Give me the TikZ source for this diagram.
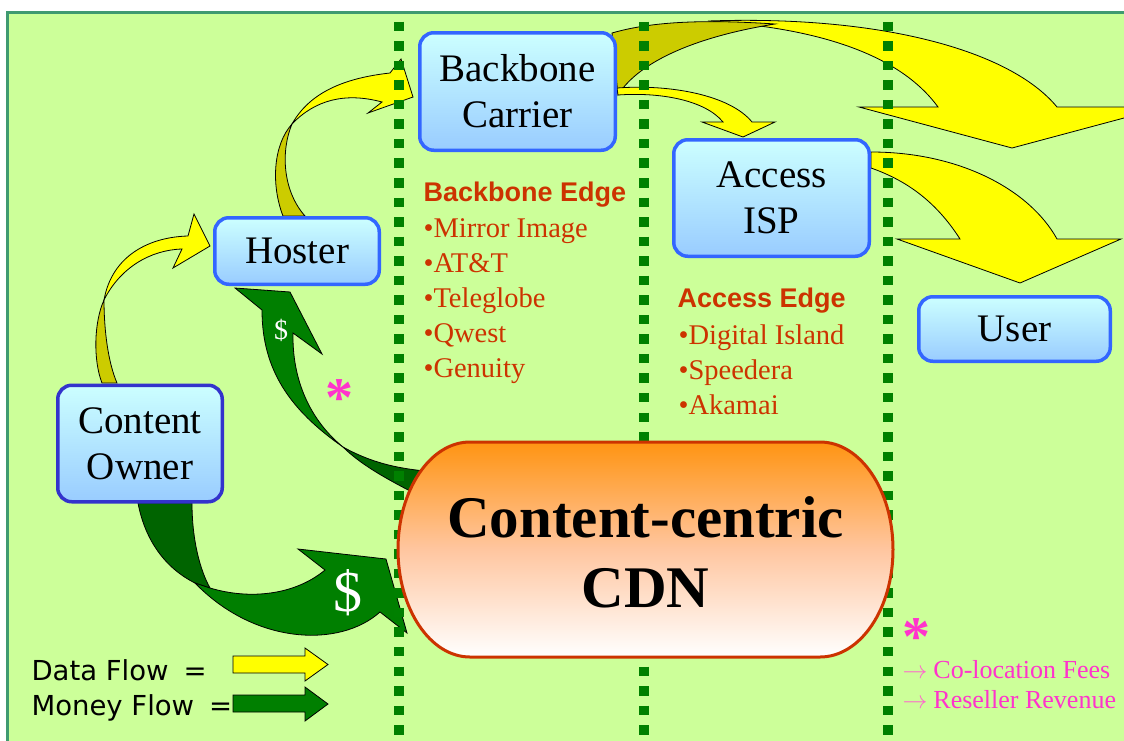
\documentclass[tikz,border=0pt]{standalone}
\usepackage{fontspec}
\setmainfont{Liberation Serif}
\newfontfamily\headsans{Liberation Sans}
\newfontfamily\keyfont{DejaVu Sans}

\definecolor{paper}{HTML}{CCFF99}
\definecolor{frameline}{HTML}{3F9A70}
\definecolor{lanegreen}{HTML}{008000}
\definecolor{boxedge}{HTML}{3366FF}
\definecolor{boxedgedark}{HTML}{3333CC}
\definecolor{boxtop}{HTML}{CCFFFF}
\definecolor{boxbottom}{HTML}{99CCFF}
\definecolor{dataflow}{HTML}{FFFF00}
\definecolor{databack}{HTML}{CCCC00}
\definecolor{moneyflow}{HTML}{007F00}
\definecolor{moneyback}{HTML}{006400}
\definecolor{edgered}{HTML}{CC3300}
\definecolor{notepink}{HTML}{FF33CC}
\definecolor{notearrow}{HTML}{FF66CC}
\definecolor{cdntop}{HTML}{FF9412}
\definecolor{cdnmid}{HTML}{FFC6A0}

\tikzset{
  entity/.style={rounded corners=14pt, draw=boxedge, line width=3.5pt,
    top color=boxtop, bottom color=boxbottom, align=center, inner sep=0pt,
    font=\fontsize{39}{46}\selectfont},
  flowdata/.style={fill=dataflow, draw=black, line width=0.8pt},
  flowdataback/.style={fill=databack, draw=black, line width=0.8pt},
  flowmoney/.style={fill=moneyflow, draw=black, line width=0.8pt},
  flowmoneyback/.style={fill=moneyback, draw=black, line width=0.8pt},
  lane/.style={draw=lanegreen, line width=10pt, dash pattern=on 9.5pt off 10.04pt},
  edgehead/.style={anchor=base west, text=edgered, font=\headsans\bfseries\fontsize{27}{27}\selectfont},
  edgeitem/.style={anchor=base west, text=edgered, font=\fontsize{28.5}{28.5}\selectfont},
  keylabel/.style={anchor=base west, font=\keyfont\fontsize{27.5}{27.5}\selectfont},
  noteline/.style={anchor=base west, text=notepink, font=\fontsize{26}{26}\selectfont},
  star/.style={text=notepink, font=\bfseries\fontsize{56}{56}\selectfont, inner sep=0pt, anchor=center},
  dollar/.style={text=white, inner sep=0pt},
}
\newcommand{\feearrow}{{\color{notearrow}$\rightarrow$}}

\begin{document}
\begin{tikzpicture}[x=1pt,y=-1pt]
\useasboundingbox (0,0) rectangle (1124,740);

% slide background with its frame
\path[fill=paper, draw=frameline, line width=3pt] (7,12) rectangle (1140,760);

% ---------- data flow arrows (yellow) ----------
% content owner -> hoster
\path[flowdataback] (102,383) .. controls (93,360) and (94,322) .. (104,300)
  .. controls (104,330) and (108,362) .. (117,383) -- cycle;
\path[flowdata] (104,300) .. controls (112,255) and (150,237) .. (188,236)
  -- (194,214) -- (210,246) -- (173,268) -- (182,249)
  .. controls (150,250) and (120,268) .. (104,300) -- cycle;

% hoster -> backbone carrier
\path[flowdataback] (283,216) .. controls (271,185) and (273,145) .. (292,124)
  .. controls (281,150) and (282,190) .. (305,216) -- cycle;
\path[flowdata] (292,124) .. controls (310,92) and (345,78) .. (390,73)
  -- (401,59) -- (413,97) -- (368,113) -- (382,102)
  .. controls (345,92) and (315,100) .. (292,124) -- cycle;

% backbone carrier -> user (over the top)
\path[flowdata] (708,21) .. controls (880,15) and (1010,50) .. (1057,107)
  -- (1165,107) -- (1012,148) -- (859,107) -- (938,107)
  .. controls (900,55) and (820,28) .. (708,21) -- cycle;
\path[flowdataback] (612,33) .. controls (650,22) and (700,19) .. (775,24)
  .. controls (700,36) and (640,60) .. (618,95) -- cycle;

% backbone carrier -> access ISP
\path[flowdata] (617,88) .. controls (670,84) and (730,95) .. (752,122)
  -- (775,122) -- (743,137) -- (702,122) -- (723,122)
  .. controls (705,100) and (660,92) .. (618,95) -- cycle;

% access ISP -> user
\path[flowdata] (871,152) .. controls (960,152) and (1030,190) .. (1057,239)
  -- (1121,239) -- (1020,283) -- (897,239) -- (960,239)
  .. controls (935,200) and (905,180) .. (871,168) -- cycle;

% ---------- money flow arrows (green) ----------
% content owner -> CDN
\path[flowmoneyback] (138,503) .. controls (145,540) and (165,568) .. (195,583)
  -- (210,588) .. controls (200,570) and (192,540) .. (192,503) -- cycle;
\path[flowmoney] (210,588) .. controls (250,600) and (295,595) .. (325,570)
  -- (298,549) -- (386,559) -- (407,633) -- (380,612)
  .. controls (340,648) and (255,645) .. (195,583) -- cycle;
\node[dollar, font=\fontsize{58}{58}\selectfont] (bigfee) at (348,593) {\$};

% CDN -> hoster
\path[flowmoneyback] (343,447) .. controls (370,462) and (395,468) .. (425,471)
  -- (412,492) .. controls (385,478) and (360,464) .. (343,447) -- cycle;
\path[flowmoney] (262,310) -- (235,288) -- (290,292) -- (322,354) -- (293,333)
  .. controls (292,380) and (310,420) .. (343,447)
  .. controls (290,410) and (262,370) .. (262,310) -- cycle;
\node[dollar, font=\fontsize{28}{28}\selectfont] (smallfee) at (281,330) {\$};

% ---------- dotted lane dividers ----------
\foreach \lx in {398.8,644.3,887.7}
  \draw[lane] (\lx,21.7) -- (\lx,745);

% ---------- the CDN ----------
\path[draw=edgered, line width=3pt, top color=cdntop, bottom color=white, middle color=cdnmid]
  (470,442) -- (820,442)
  arc[start angle=-90, end angle=90, x radius=73, y radius=107.5]
  -- (470,657)
  arc[start angle=90, end angle=270, x radius=72, y radius=107.5] -- cycle;
\node[align=center, inner sep=0pt, font=\bfseries\fontsize{59}{70}\selectfont]
  (cdn) at (645.5,552) {Content-centric\\CDN};

% ---------- parties ----------
\node[entity, minimum width=195.5pt, minimum height=117.5pt] (backbone) at (517.5,91.5) {Backbone\\Carrier};
\node[entity, minimum width=195.5pt, minimum height=116.5pt] (access) at (771.5,198) {Access\\ISP};
\node[entity, minimum width=164.5pt, minimum height=66.5pt] (hoster) at (297,251) {Hoster};
\node[entity, draw=boxedgedark, minimum width=164.5pt, minimum height=116.5pt] (owner) at (140,443.5) {Content\\Owner};
\node[entity, minimum width=191.5pt, minimum height=64.5pt] (user) at (1014.5,329) {User};

% ---------- edge providers ----------
\node[edgehead] (bbhead) at (420,201) {Backbone Edge};
\node[edgeitem] (bb1) at (420,237) {•Mirror Image};
\node[edgeitem] (bb2) at (420,272) {•AT\&T};
\node[edgeitem] (bb3) at (420,307) {•Teleglobe};
\node[edgeitem] (bb4) at (420,342) {•Qwest};
\node[edgeitem] (bb5) at (420,377) {•Genuity};

\node[edgehead] (achead) at (674,307) {Access Edge};
\node[edgeitem] (ac1) at (675,344) {•Digital Island};
\node[edgeitem] (ac2) at (675,379) {•Speedera};
\node[edgeitem] (ac3) at (675,414) {•Akamai};

% ---------- footnote marks ----------
\node[star] (mark1) at (339,416) {\smash{*}};
\node[star] (mark2) at (916,655) {\smash{*}};
\node[noteline] (fee1) at (899,678) {\feearrow\hspace{6pt}Co-location Fees};
\node[noteline] (fee2) at (899,708) {\feearrow\hspace{6pt}Reseller Revenue};

% ---------- legend ----------
\node[keylabel] (keydata) at (28,680) {Data Flow\hspace{15pt}=};
\node[keylabel] (keymoney) at (28,715) {Money Flow\hspace{15pt}=};
\path[flowdata] (233,656) -- (305,656) -- (305,648) -- (328,664.5) -- (305,681) -- (305,673) -- (233,673) -- cycle;
\path[flowmoney] (233,695) -- (305,695) -- (305,687) -- (328,704) -- (305,721) -- (305,712) -- (233,712) -- cycle;
\end{tikzpicture}
\end{document}
